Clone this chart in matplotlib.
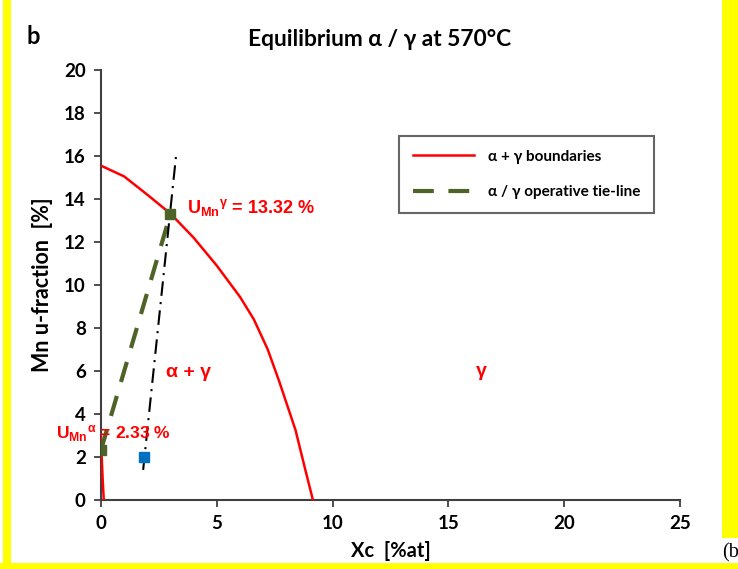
import matplotlib
matplotlib.use("Agg")
import matplotlib.pyplot as plt
from matplotlib.patches import Rectangle

# ---- data ----
gamma_bound_x = [0.0, 1.0, 2.0, 3.0, 4.0, 5.0, 6.0, 6.6, 7.2, 7.7, 8.4, 8.8, 9.15]
gamma_bound_y = [15.55, 15.05, 14.2, 13.32, 12.2, 10.9, 9.45, 8.4, 7.0, 5.5, 3.25, 1.5, 0.0]
alpha_bound_x = [0.0, 0.03, 0.07, 0.12]
alpha_bound_y = [3.0, 2.0, 1.0, 0.0]
tie_x = [0.0, 3.0]
tie_y = [2.33, 13.32]
op_x = [1.82, 3.24]
op_y = [1.4, 16.0]
point_x = [1.87]
point_y = [2.0]
xticks = [0, 5, 10, 15, 20, 25]
yticks = [0, 2, 4, 6, 8, 10, 12, 14, 16, 18, 20]

plt.rcParams['mathtext.fontset'] = 'custom'
plt.rcParams['mathtext.rm'] = 'Liberation Sans:bold'
plt.rcParams['mathtext.it'] = 'Liberation Sans:bold'
plt.rcParams['mathtext.bf'] = 'Liberation Sans:bold'

W, H = 738, 569
fig = plt.figure(figsize=(W / 100, H / 100), dpi=100)
fig.patch.set_facecolor('white')

def frect(x0, y0, x1, y1, color):
    fig.patches.append(Rectangle((x0 / W, 1 - y1 / H), (x1 - x0) / W, (y1 - y0) / H,
                                 transform=fig.transFigure, facecolor=color,
                                 edgecolor='none', zorder=0))

yellow = '#FFFF00'
frect(3, 0, 11, 563, yellow)
frect(722, 0, 738, 538, yellow)
frect(0, 563, 738, 569, yellow)

ax = fig.add_axes([101 / W, 1 - 500 / H, (680 - 101) / W, (500 - 70) / H])
ax.set_facecolor('none')
ax.set_xlim(0, 25)
ax.set_ylim(0, 20)
ax.set_xticks(xticks)
ax.set_yticks(yticks)
for s in ['top', 'right']:
    ax.spines[s].set_visible(False)
for s in ['left', 'bottom']:
    ax.spines[s].set_color('#404040')
    ax.spines[s].set_linewidth(1.5)
ax.tick_params(direction='out', length=5, width=1.3, color='#404040',
               labelsize=13.5, pad=6)
for lbl in ax.get_xticklabels() + ax.get_yticklabels():
    lbl.set_fontweight('bold')
    lbl.set_family('Lato')

red = '#FF0000'
green = '#4F6228'

ax.plot(gamma_bound_x, gamma_bound_y, color=red, lw=1.8, label=r'α + γ boundaries', zorder=3)
ax.plot(alpha_bound_x, alpha_bound_y, color=red, lw=1.8, zorder=3)
ax.plot(tie_x, tie_y, color=green, lw=3, dashes=(5, 3.5), label='α / γ operative tie-line', zorder=4)
ax.plot(tie_x, tie_y, ls='none', marker='s', ms=7, color=green, zorder=5)
ax.plot(op_x, op_y, color='black', lw=1.5, dashes=(7, 3, 1, 3), zorder=4)
ax.plot(point_x, point_y, ls='none', marker='s', ms=7, color='#0070C0', zorder=5)

ax.text(2.8, 5.95, 'α + γ', color=red, fontsize=14, fontweight='bold',
        family='Liberation Sans', va='center', ha='left')
ax.text(16.4, 6.0, 'γ', color=red, fontsize=14, fontweight='bold',
        family='Liberation Sans', va='center', ha='center')
ax.text(3.7, 13.6, r'U$_{\mathrm{Mn}}$$^{\mathrm{γ}}$ = 13.32 %', color=red, fontsize=13,
        fontweight='bold', family='Liberation Sans', va='center', ha='left', zorder=6)
ax.text(-1.95, 3.1, r'U$_{\mathrm{Mn}}$$^{\mathrm{α}}$ = 2.33 %', color=red, fontsize=12.6,
        fontweight='bold', family='Liberation Sans', va='center', ha='left',
        clip_on=False, zorder=6)

leg = ax.legend(loc='upper left', bbox_to_anchor=(0.515, 0.847), borderaxespad=0,
                frameon=True, fancybox=False, handlelength=4.0, handletextpad=0.9,
                borderpad=0.9, labelspacing=1.4,
                prop={'family': 'Lato', 'weight': 'bold', 'size': 11})
leg.get_frame().set_edgecolor('#404040')
leg.get_frame().set_linewidth(1.5)

ax.set_xlabel('Xc  [%at]', fontsize=14.5, fontweight='bold', family='Lato', labelpad=6)
ax.set_ylabel('Mn u-fraction  [%]', fontsize=15.5, fontweight='bold', family='Lato', labelpad=8)

fig.text(380 / W, 1 - 40 / H, 'Equilibrium α / γ at 570°C', fontsize=16.4, fontweight='bold',
         family='Lato', ha='center', va='center')
fig.text(27 / W, 1 - 36 / H, 'b', fontsize=17, fontweight='bold', family='Lato',
         ha='left', va='center')
fig.text(722 / W, 1 - 553 / H, '(b', fontsize=14.5, family='Liberation Serif',
         ha='left', va='center')

fig.savefig('out.png', dpi=100, facecolor='white')
